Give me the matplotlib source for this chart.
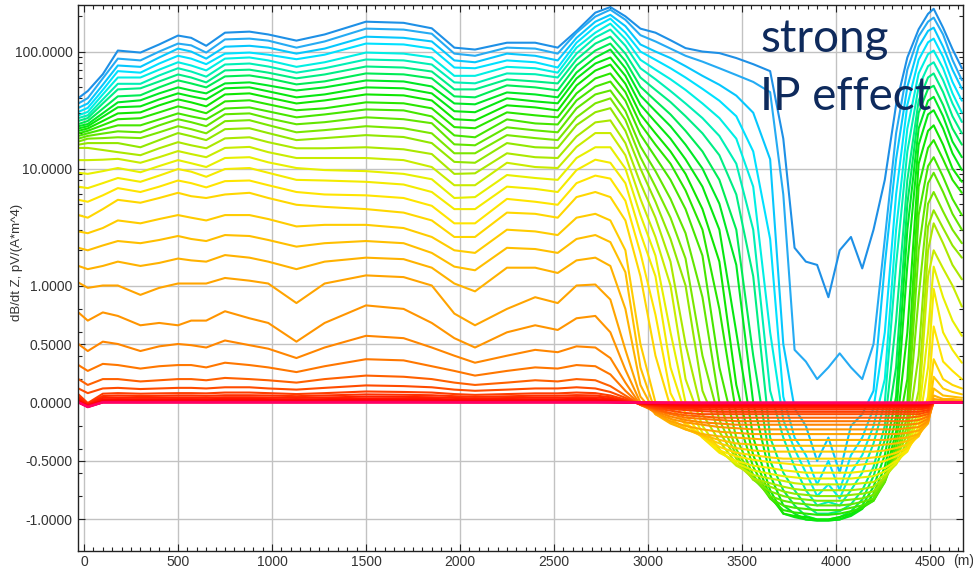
import matplotlib
matplotlib.use('Agg')
import matplotlib.pyplot as plt
from matplotlib.colors import LinearSegmentedColormap
from matplotlib.ticker import FixedLocator, FixedFormatter

plt.rcParams['font.family'] = ['Liberation Sans', 'DejaVu Sans']

# profile stations (m)
x_m = [-30, 20, 100, 180, 300, 400, 500, 570, 650, 750,
       880, 980, 1130, 1280, 1500, 1700, 1850, 1970, 2080,
       2250, 2400, 2520, 2620, 2720, 2800,
       2880, 2960, 3040, 3120, 3200, 3290, 3380, 3470, 3560, 3650,
       3720, 3780, 3840, 3900, 3960, 4020, 4080, 4140, 4200, 4260,
       4320, 4380, 4440, 4490, 4520, 4570, 4620, 4670]

# dB/dt Z per time gate (early -> late)
dbdt_gates = [
    [40, 46, 64, 102, 98, 115, 137, 131, 112, 145, 148, 140, 124, 140, 180, 176, 158, 108, 104, 119, 119, 108, 150, 215, 240,
     200, 157, 145, 125, 107, 100, 97, 88, 78, 68, 18, 2.1, 1.6, 1.5, 0.9, 2.0, 2.6, 1.4, 3.0, 8, 35, 89, 155, 210, 232, 160, 105, 72],
    [36, 40, 59, 87, 84, 100, 117, 113, 98, 127, 129, 124, 108, 122, 157, 154, 142, 96, 92, 108, 106, 96, 145, 199, 228,
     187, 138, 122, 106, 92, 82, 72, 63, 55, 45, 6, 0.45, 0.35, 0.2, 0.3, 0.42, 0.3, 0.2, 0.5, 2.5, 20, 70, 135, 180, 195, 140, 85, 57],
    [33, 36, 52, 76, 74, 89, 106, 100, 87, 110, 112, 108, 96, 106, 134, 131, 122, 84, 81, 96, 92, 84, 131, 180, 206,
     165, 115, 100, 88, 75, 62, 52, 42, 30, 12, 0.5, -0.05, -0.2, -0.5, -0.3, -0.6, -0.2, -0.1, 0.1, 1.5, 12, 50, 110, 150, 160, 110, 70, 48],
    [30.5, 33, 47, 68, 66, 79, 92, 87, 78, 96, 98, 94, 86, 94, 117, 115, 106, 73, 72, 84, 81, 73, 119, 163, 191,
     145, 100, 85, 72, 60, 48, 38, 28, 14, 2.5, 0.05, -0.3, -0.45, -0.7, -0.5, -0.75, -0.45, -0.3, -0.05, 0.6, 6, 35, 85, 120, 129, 90, 55, 38],
    [28.5, 30.5, 43, 60, 60, 70, 81, 76, 69, 87, 89, 84, 74, 81, 98, 96, 89, 62, 62, 74, 72, 66, 108, 145, 173,
     128, 85, 70, 58, 47, 36, 27, 18, 7, 0.6, -0.15, -0.4, -0.6, -0.8, -0.7, -0.82, -0.6, -0.45, -0.2, 0.2, 3, 22, 65, 95, 102, 72, 44, 30],
    [27, 28.5, 39, 53, 53, 62.5, 72, 67.5, 61, 77.5, 79, 74.5, 66, 72, 85.5, 84, 77.5, 54.5, 53.5, 65, 64, 60, 96, 132, 154,
     112, 72, 58, 46, 36, 27, 19, 11, 3, 0.1, -0.3, -0.55, -0.75, -0.88, -0.85, -0.88, -0.75, -0.6, -0.35, 0.0, 1.5, 14, 50, 75, 81, 57, 36, 25],
    [25.5, 27, 36, 47.5, 48.5, 55.5, 63.7, 60, 54.5, 69, 70, 66, 59, 63.7, 74.5, 73, 67.5, 47.5, 47.5, 57.7, 55.5, 53.4, 85.5, 117, 134,
     96, 60, 47, 37, 28, 20, 13, 6, 1.2, -0.3, -0.6, -0.75, -0.88, -0.95, -0.95, -0.93, -0.87, -0.75, -0.55, -0.2, 0.7, 8, 38, 60, 65, 45, 28, 20],
    [24, 25.5, 32.5, 41.4, 42.3, 49.4, 56.7, 53.4, 49.4, 61.3, 62.5, 59, 52.4, 55.6, 65, 63.8, 59, 41.4, 40.6, 51.4, 49.4, 46.6, 76, 102, 117,
     83, 50, 38, 29, 21, 14, 8, 3, 0.4, -0.5, -0.75, -0.88, -0.97, -1.0, -1.0, -0.98, -0.93, -0.83, -0.63, -0.32, 0.3, 5, 30, 48, 51, 35, 22, 16],
    [23, 24, 29.7, 36.8, 38.3, 43.9, 49.4, 46.5, 43.9, 53.4, 54.5, 51.3, 46.5, 49.4, 56.6, 55.5, 50.3, 36, 35.4, 44.7, 43, 40.6, 66.2, 88.9, 104,
     72, 42, 31, 23, 16, 10, 5, 1.5, 0.0, -0.62, -0.88, -0.95, -1.0, -1.02, -1.02, -1.0, -0.96, -0.88, -0.72, -0.45, 0.05, 3, 22, 38, 41, 28, 17, 12.5],
    [22, 23, 27.7, 33.4, 34, 39, 43.9, 41.4, 39, 48.5, 49.4, 45.7, 40.6, 43, 49.4, 48.5, 43.9, 30.9, 30.3, 39.8, 37.5, 36.1, 58.9, 79, 88.9,
     62, 35, 25, 18, 12, 7, 3, 0.6, -0.3, -0.75, -0.95, -0.98, -1.0, -1.02, -1.02, -1.0, -0.97, -0.91, -0.78, -0.55, -0.12, 1.5, 16, 29, 31.5, 22, 13.5, 9.7],
    [21, 22, 25.5, 29.6, 30.2, 34.7, 39, 36.8, 34, 43, 43.9, 40.5, 36, 38.2, 43, 42.2, 38.2, 26.4, 25.8, 34.7, 33.3, 31.4, 51.3, 68.8, 77.4,
     53, 29, 20, 14, 9, 4.5, 1.6, 0.15, -0.45, -0.8, -0.95, -0.97, -0.98, -1.0, -1.0, -0.98, -0.95, -0.9, -0.82, -0.62, -0.25, 0.6, 11, 21, 23.4, 16, 10, 7.7],
    [20, 21, 23.5, 26.4, 26.9, 30.2, 34, 32.1, 29.7, 37.5, 38.3, 35.4, 31.5, 32.7, 36.8, 36.1, 32.7, 22.6, 22.1, 30.2, 28.5, 27.4, 43.9, 58.9, 65,
     45, 24, 16, 11, 6.5, 3, 0.8, -0.1, -0.55, -0.82, -0.92, -0.94, -0.95, -0.96, -0.96, -0.95, -0.93, -0.9, -0.84, -0.66, -0.32, 0.2, 7, 15, 17.5, 12, 8, 6.2],
    [19, 20, 21.6, 23.4, 23.4, 26.3, 29.6, 27.9, 26.3, 32.6, 33.3, 30.8, 27.4, 29, 32, 31.4, 27.9, 19.2, 18.5, 26.3, 24.3, 23.8, 38.2, 50.2, 55.4,
     38, 19.5, 12.5, 8, 4.5, 1.8, 0.3, -0.3, -0.62, -0.82, -0.88, -0.9, -0.91, -0.92, -0.92, -0.92, -0.9, -0.88, -0.84, -0.68, -0.38, 0.0, 4, 10.5, 12.5, 8.5, 5.5, 4.0],
    [18, 19, 19.9, 20.8, 20.4, 23.4, 26.4, 24.9, 23, 29.1, 29.6, 26.9, 23.9, 24.9, 27.4, 26.4, 24.4, 16.1, 15.8, 22.5, 21.2, 20.4, 32.7, 43, 46.5,
     31, 15.5, 9.5, 5.5, 2.8, 0.9, 0.0, -0.4, -0.65, -0.8, -0.84, -0.86, -0.87, -0.88, -0.88, -0.88, -0.87, -0.85, -0.82, -0.68, -0.43, -0.12, 2, 7.5, 9.2, 6.3, 4.1, 3.0],
    [17, 18, 18.2, 18.5, 18.2, 20.4, 23, 21.7, 20, 25.4, 25.9, 23.5, 20.4, 21.3, 23, 22.1, 20, 13.5, 13.5, 19.3, 18.2, 17.5, 27.4, 36.1, 39.8,
     26, 12.5, 7, 3.8, 1.7, 0.4, -0.15, -0.45, -0.66, -0.76, -0.8, -0.82, -0.83, -0.84, -0.84, -0.84, -0.83, -0.82, -0.79, -0.66, -0.46, -0.2, 0.9, 5, 6.3, 4.3, 3.0, 2.3],
    [16, 16.5, 16.5, 16.5, 15.2, 17.5, 20.1, 18.9, 17.5, 21.7, 22.1, 20.1, 17.5, 18.2, 19.3, 18.6, 16.5, 11.4, 11.2, 16.5, 15.2, 15, 23.5, 30.3, 32.8,
     21, 10, 5.2, 2.5, 1.0, 0.1, -0.25, -0.48, -0.66, -0.72, -0.76, -0.78, -0.79, -0.8, -0.8, -0.8, -0.79, -0.78, -0.76, -0.65, -0.48, -0.27, 0.4, 3.2, 4.4, 3.1, 2.2, 1.73],
    [15, 15, 14.4, 13.8, 13, 14.9, 16.8, 15.8, 14.9, 18.1, 18.5, 16.8, 14.9, 14.9, 15.2, 14.6, 13.3, 9, 9.1, 13.5, 12.5, 12.3, 18.8, 24.8, 25.8,
     16.5, 7.5, 3.8, 1.6, 0.5, -0.1, -0.33, -0.52, -0.65, -0.69, -0.72, -0.74, -0.75, -0.75, -0.75, -0.75, -0.75, -0.74, -0.72, -0.64, -0.52, -0.33, 0.1, 2.0, 3.4, 2.3, 1.5, 1.13],
    [11.8, 11.8, 11.9, 12.1, 11.2, 12.5, 14.1, 13.3, 12.5, 15, 15.3, 13.8, 12.3, 12.3, 12.3, 11.8, 10.3, 7.2, 7.2, 11.2, 10.3, 10.1, 15.3, 20.1, 20.1,
     13, 5.5, 2.6, 1.0, 0.2, -0.2, -0.4, -0.54, -0.62, -0.65, -0.67, -0.69, -0.7, -0.7, -0.7, -0.7, -0.7, -0.69, -0.68, -0.62, -0.53, -0.37, -0.05, 1.2, 2.0, 1.4, 1.0, 0.82],
    [9.2, 9.0, 9.5, 10.1, 9.3, 10.5, 11.8, 11.1, 10.3, 12.3, 12.5, 11.3, 10.1, 9.7, 9.5, 9.0, 8.1, 5.6, 5.7, 8.8, 8.3, 8.0, 12.3, 15.2, 15.2,
     10, 4, 1.8, 0.6, 0.0, -0.26, -0.42, -0.52, -0.58, -0.61, -0.63, -0.64, -0.65, -0.65, -0.65, -0.65, -0.65, -0.64, -0.63, -0.59, -0.52, -0.4, -0.12, 0.6, 1.45, 0.9, 0.7, 0.57],
    [7.0, 6.8, 7.5, 8.3, 7.7, 8.7, 9.9, 9.4, 8.5, 9.9, 10.1, 9.2, 8.0, 7.9, 7.7, 7.3, 6.3, 4.5, 4.5, 7.0, 6.7, 6.3, 9.7, 11.9, 11.2,
     7.5, 2.8, 1.2, 0.3, -0.1, -0.3, -0.43, -0.5, -0.54, -0.56, -0.58, -0.59, -0.6, -0.6, -0.6, -0.6, -0.6, -0.59, -0.58, -0.56, -0.5, -0.42, -0.2, 0.3, 0.97, 0.6, 0.45, 0.34],
    [5.4, 5.2, 5.9, 6.8, 6.3, 7.0, 7.9, 7.5, 6.9, 7.8, 7.9, 7.2, 6.3, 6.0, 5.9, 5.6, 4.8, 3.4, 3.4, 5.5, 5.2, 4.9, 7.5, 8.7, 8.2,
     5.3, 1.9, 0.75, 0.08, -0.17, -0.3, -0.41, -0.46, -0.49, -0.51, -0.52, -0.53, -0.54, -0.54, -0.54, -0.54, -0.54, -0.53, -0.52, -0.5, -0.46, -0.41, -0.25, 0.05, 0.65, 0.35, 0.27, 0.2],
    [4.0, 3.8, 4.5, 5.4, 5.1, 5.6, 6.2, 5.8, 5.6, 6.0, 6.2, 5.6, 4.9, 4.7, 4.5, 4.2, 3.6, 2.6, 2.6, 4.2, 4.1, 3.8, 5.7, 6.3, 5.7,
     3.6, 1.2, 0.4, -0.04, -0.19, -0.29, -0.38, -0.43, -0.45, -0.47, -0.48, -0.48, -0.48, -0.48, -0.48, -0.48, -0.48, -0.48, -0.47, -0.46, -0.43, -0.39, -0.28, -0.05, 0.37, 0.2, 0.15, 0.12],
    [2.9, 2.8, 3.1, 3.6, 3.4, 3.7, 4.0, 3.8, 3.6, 4.0, 4.0, 3.7, 3.2, 3.3, 3.3, 3.1, 2.6, 2.0, 1.9, 3.0, 2.9, 2.7, 3.8, 4.1, 3.6,
     2.0, 0.5, 0.0, -0.14, -0.22, -0.29, -0.35, -0.39, -0.41, -0.42, -0.42, -0.42, -0.42, -0.42, -0.42, -0.42, -0.42, -0.42, -0.42, -0.41, -0.39, -0.36, -0.29, -0.12, 0.22, 0.12, 0.09, 0.07],
    [2.1, 2.0, 2.2, 2.4, 2.3, 2.45, 2.65, 2.5, 2.4, 2.7, 2.65, 2.45, 2.15, 2.3, 2.4, 2.3, 1.9, 1.45, 1.35, 2.1, 2.05, 1.9, 2.5, 2.7, 2.35,
     1.3, 0.3, -0.08, -0.17, -0.23, -0.28, -0.32, -0.35, -0.36, -0.37, -0.37, -0.37, -0.37, -0.37, -0.37, -0.37, -0.37, -0.37, -0.37, -0.36, -0.35, -0.33, -0.28, -0.16, 0.12, 0.06, 0.05, 0.04],
    [1.47, 1.38, 1.47, 1.6, 1.47, 1.56, 1.7, 1.64, 1.6, 1.82, 1.73, 1.6, 1.38, 1.6, 1.73, 1.68, 1.42, 1.04, 0.95, 1.42, 1.42, 1.28, 1.64, 1.73, 1.47,
     0.8, 0.15, -0.1, -0.18, -0.23, -0.27, -0.29, -0.3, -0.31, -0.32, -0.32, -0.32, -0.32, -0.32, -0.32, -0.32, -0.32, -0.32, -0.32, -0.32, -0.31, -0.3, -0.27, -0.18, 0.06, 0.03, 0.03, 0.02],
    [1.06, 0.98, 1.0, 1.0, 0.92, 0.98, 1.04, 1.04, 1.04, 1.16, 1.1, 1.04, 0.85, 1.04, 1.22, 1.18, 1.0, 0.76, 0.66, 0.8, 0.9, 0.85, 1.0, 1.02, 0.88,
     0.45, 0.05, -0.1, -0.16, -0.2, -0.23, -0.25, -0.26, -0.27, -0.27, -0.27, -0.27, -0.27, -0.27, -0.27, -0.27, -0.27, -0.27, -0.27, -0.27, -0.27, -0.26, -0.24, -0.17, 0.03, 0.02, 0.015, 0.01],
    [0.77, 0.7, 0.77, 0.74, 0.66, 0.68, 0.66, 0.7, 0.7, 0.78, 0.72, 0.68, 0.52, 0.68, 0.83, 0.8, 0.68, 0.55, 0.47, 0.6, 0.66, 0.62, 0.72, 0.74, 0.6,
     0.28, 0.0, -0.09, -0.14, -0.17, -0.19, -0.21, -0.22, -0.23, -0.23, -0.23, -0.23, -0.23, -0.23, -0.23, -0.23, -0.23, -0.23, -0.23, -0.23, -0.23, -0.22, -0.21, -0.16, 0.01, 0.01, 0.01, 0.005],
    [0.5, 0.44, 0.52, 0.5, 0.44, 0.48, 0.5, 0.49, 0.47, 0.53, 0.49, 0.46, 0.38, 0.47, 0.57, 0.55, 0.47, 0.4, 0.34, 0.4, 0.45, 0.43, 0.48, 0.47, 0.38,
     0.17, -0.02, -0.08, -0.12, -0.15, -0.17, -0.18, -0.19, -0.19, -0.19, -0.19, -0.19, -0.19, -0.19, -0.19, -0.19, -0.19, -0.19, -0.19, -0.19, -0.19, -0.19, -0.18, -0.14, 0.0, 0.005, 0.005, 0.005],
    [0.32, 0.27, 0.33, 0.32, 0.29, 0.31, 0.32, 0.32, 0.3, 0.34, 0.32, 0.3, 0.26, 0.31, 0.37, 0.36, 0.31, 0.27, 0.23, 0.27, 0.3, 0.29, 0.32, 0.31, 0.24,
     0.1, -0.02, -0.07, -0.1, -0.13, -0.14, -0.15, -0.16, -0.16, -0.16, -0.16, -0.16, -0.16, -0.16, -0.16, -0.16, -0.16, -0.16, -0.16, -0.16, -0.16, -0.16, -0.15, -0.12, 0.0, 0.003, 0.003, 0.003],
    [0.2, 0.15, 0.2, 0.2, 0.18, 0.19, 0.2, 0.2, 0.19, 0.21, 0.2, 0.19, 0.17, 0.2, 0.23, 0.22, 0.2, 0.17, 0.15, 0.17, 0.19, 0.18, 0.2, 0.19, 0.14,
     0.06, -0.02, -0.06, -0.09, -0.11, -0.12, -0.13, -0.13, -0.13, -0.13, -0.13, -0.13, -0.13, -0.13, -0.13, -0.13, -0.13, -0.13, -0.13, -0.13, -0.13, -0.13, -0.12, -0.1, 0.0, 0.002, 0.002, 0.002],
    [0.12, 0.08, 0.12, 0.125, 0.115, 0.12, 0.125, 0.125, 0.12, 0.13, 0.13, 0.12, 0.11, 0.125, 0.146, 0.14, 0.13, 0.11, 0.1, 0.11, 0.12, 0.12, 0.13, 0.12, 0.09,
     0.04, -0.02, -0.05, -0.07, -0.09, -0.1, -0.1, -0.1, -0.1, -0.1, -0.1, -0.1, -0.1, -0.1, -0.1, -0.1, -0.1, -0.1, -0.1, -0.1, -0.1, -0.1, -0.1, -0.08, 0.0, 0.002, 0.002, 0.002],
    [0.07, -0.005, 0.075, 0.08, 0.075, 0.078, 0.08, 0.08, 0.078, 0.085, 0.085, 0.08, 0.072, 0.08, 0.094, 0.09, 0.085, 0.072, 0.065, 0.072, 0.078, 0.078, 0.085, 0.08, 0.06,
     0.025, -0.015, -0.04, -0.055, -0.065, -0.075, -0.08, -0.08, -0.08, -0.08, -0.08, -0.08, -0.08, -0.08, -0.08, -0.08, -0.08, -0.08, -0.08, -0.08, -0.08, -0.08, -0.08, -0.065, 0.0, 0.001, 0.001, 0.001],
    [0.05, -0.01, 0.055, 0.06, 0.055, 0.057, 0.06, 0.06, 0.057, 0.062, 0.062, 0.06, 0.054, 0.06, 0.069, 0.066, 0.062, 0.054, 0.048, 0.053, 0.058, 0.058, 0.063, 0.06, 0.045,
     0.015, -0.012, -0.03, -0.045, -0.052, -0.058, -0.06, -0.06, -0.06, -0.06, -0.06, -0.06, -0.06, -0.06, -0.06, -0.06, -0.06, -0.06, -0.06, -0.06, -0.06, -0.06, -0.06, -0.05, 0.0, 0.001, 0.001, 0.001],
    [0.036, -0.015, 0.04, 0.043, 0.04, 0.041, 0.043, 0.043, 0.041, 0.045, 0.045, 0.043, 0.039, 0.043, 0.05, 0.048, 0.045, 0.039, 0.035, 0.038, 0.042, 0.042, 0.046, 0.044, 0.033,
     0.01, -0.01, -0.025, -0.035, -0.04, -0.044, -0.045, -0.045, -0.045, -0.045, -0.045, -0.045, -0.045, -0.045, -0.045, -0.045, -0.045, -0.045, -0.045, -0.045, -0.045, -0.045, -0.045, -0.038, 0.0, 0.001, 0.001, 0.001],
    [0.024, -0.02, 0.027, 0.029, 0.027, 0.028, 0.029, 0.029, 0.028, 0.031, 0.031, 0.029, 0.026, 0.029, 0.034, 0.033, 0.031, 0.026, 0.024, 0.026, 0.028, 0.028, 0.031, 0.03, 0.022,
     0.006, -0.008, -0.02, -0.027, -0.031, -0.034, -0.035, -0.035, -0.035, -0.035, -0.035, -0.035, -0.035, -0.035, -0.035, -0.035, -0.035, -0.035, -0.035, -0.035, -0.035, -0.035, -0.035, -0.03, 0.0, 0.0, 0.0, 0.0],
    [0.015, -0.025, 0.017, 0.019, 0.018, 0.018, 0.019, 0.019, 0.018, 0.02, 0.02, 0.019, 0.017, 0.019, 0.022, 0.021, 0.02, 0.017, 0.015, 0.017, 0.018, 0.018, 0.02, 0.019, 0.014,
     0.003, -0.006, -0.014, -0.019, -0.022, -0.024, -0.025, -0.025, -0.025, -0.025, -0.025, -0.025, -0.025, -0.025, -0.025, -0.025, -0.025, -0.025, -0.025, -0.025, -0.025, -0.025, -0.025, -0.02, 0.0, 0.0, 0.0, 0.0],
    [0.01, -0.03, 0.011, 0.013, 0.012, 0.012, 0.013, 0.013, 0.012, 0.014, 0.014, 0.013, 0.011, 0.013, 0.015, 0.014, 0.013, 0.011, 0.01, 0.011, 0.012, 0.012, 0.013, 0.013, 0.009,
     0.002, -0.004, -0.01, -0.014, -0.016, -0.017, -0.018, -0.018, -0.018, -0.018, -0.018, -0.018, -0.018, -0.018, -0.018, -0.018, -0.018, -0.018, -0.018, -0.018, -0.018, -0.018, -0.018, -0.015, 0.0, 0.0, 0.0, 0.0],
    [0.006, -0.03, 0.008, 0.009, 0.008, 0.008, 0.009, 0.009, 0.008, 0.009, 0.009, 0.009, 0.008, 0.009, 0.01, 0.01, 0.009, 0.008, 0.007, 0.008, 0.008, 0.008, 0.009, 0.009, 0.006,
     0.001, -0.003, -0.007, -0.009, -0.011, -0.012, -0.012, -0.012, -0.012, -0.012, -0.012, -0.012, -0.012, -0.012, -0.012, -0.012, -0.012, -0.012, -0.012, -0.012, -0.012, -0.012, -0.012, -0.01, 0.0, 0.0, 0.0, 0.0],
    [0.004, -0.03, 0.005, 0.006, 0.005, 0.006, 0.006, 0.006, 0.005, 0.006, 0.006, 0.006, 0.005, 0.006, 0.007, 0.007, 0.006, 0.005, 0.005, 0.005, 0.006, 0.006, 0.006, 0.006, 0.004,
     0.0, -0.002, -0.005, -0.006, -0.007, -0.008, -0.008, -0.008, -0.008, -0.008, -0.008, -0.008, -0.008, -0.008, -0.008, -0.008, -0.008, -0.008, -0.008, -0.008, -0.008, -0.008, -0.008, -0.007, 0.0, 0.0, 0.0, 0.0],
    [0.003, -0.035, 0.004, 0.004, 0.004, 0.004, 0.004, 0.004, 0.004, 0.004, 0.004, 0.004, 0.004, 0.004, 0.005, 0.005, 0.004, 0.004, 0.003, 0.004, 0.004, 0.004, 0.004, 0.004, 0.003,
     0.0, -0.001, -0.003, -0.004, -0.005, -0.006, -0.006, -0.006, -0.006, -0.006, -0.006, -0.006, -0.006, -0.006, -0.006, -0.006, -0.006, -0.006, -0.006, -0.006, -0.006, -0.006, -0.006, -0.005, 0.0, 0.0, 0.0, 0.0],
    [0.002, -0.035, 0.002, 0.003, 0.002, 0.003, 0.003, 0.003, 0.002, 0.003, 0.003, 0.003, 0.002, 0.003, 0.003, 0.003, 0.003, 0.002, 0.002, 0.002, 0.003, 0.003, 0.003, 0.003, 0.002,
     0.0, -0.001, -0.002, -0.003, -0.003, -0.004, -0.004, -0.004, -0.004, -0.004, -0.004, -0.004, -0.004, -0.004, -0.004, -0.004, -0.004, -0.004, -0.004, -0.004, -0.004, -0.004, -0.004, -0.003, 0.0, 0.0, 0.0, 0.0],
    [0.001, -0.035, 0.002, 0.002, 0.002, 0.002, 0.002, 0.002, 0.002, 0.002, 0.002, 0.002, 0.002, 0.002, 0.002, 0.002, 0.002, 0.002, 0.001, 0.002, 0.002, 0.002, 0.002, 0.002, 0.001,
     0.0, -0.001, -0.001, -0.002, -0.002, -0.003, -0.003, -0.003, -0.003, -0.003, -0.003, -0.003, -0.003, -0.003, -0.003, -0.003, -0.003, -0.003, -0.003, -0.003, -0.003, -0.003, -0.003, -0.002, 0.0, 0.0, 0.0, 0.0],
    [0.001, -0.04, 0.001, 0.001, 0.001, 0.001, 0.001, 0.001, 0.001, 0.001, 0.001, 0.001, 0.001, 0.001, 0.001, 0.001, 0.001, 0.001, 0.001, 0.001, 0.001, 0.001, 0.001, 0.001, 0.001,
     0.0, 0.0, -0.001, -0.001, -0.001, -0.002, -0.002, -0.002, -0.002, -0.002, -0.002, -0.002, -0.002, -0.002, -0.002, -0.002, -0.002, -0.002, -0.002, -0.002, -0.002, -0.002, -0.002, -0.001, 0.0, 0.0, 0.0, 0.0],
    [0.0, -0.04, 0.0005, 0.0005, 0.0005, 0.0005, 0.0005, 0.0005, 0.0005, 0.0005, 0.0005, 0.0005, 0.0005, 0.0005, 0.0005, 0.0005, 0.0005, 0.0005, 0.0005, 0.0005, 0.0005, 0.0005, 0.0005, 0.0005, 0.0005,
     0.0, 0.0, 0.0, -0.001, -0.001, -0.001, -0.001, -0.001, -0.001, -0.001, -0.001, -0.001, -0.001, -0.001, -0.001, -0.001, -0.001, -0.001, -0.001, -0.001, -0.001, -0.001, -0.001, -0.001, 0.0, 0.0, 0.0, 0.0],
]

y_ticks = [-1.0, -0.5, 0.0, 0.5, 1.0, 10.0, 100.0]
y_tick_labels = ['-1.0000', '-0.5000', '0.0000', '0.5000', '1.0000', '10.0000', '100.0000']
y_minor = [-0.8, -0.6, -0.4, -0.2, 0.2, 0.4, 0.6, 0.8,
           2, 3, 4, 5, 6, 7, 8, 9, 20, 30, 40, 50, 60, 70, 80, 90, 200]
x_ticks = [0, 500, 1000, 1500, 2000, 2500, 3000, 3500, 4000, 4500]
x_tick_labels = ['0', '500', '1000', '1500', '2000', '2500', '3000', '3500', '4000', '4500']

# rainbow from the first gate (blue) to the last (pink-red)
gate_colors = [
    (0.000, '#1e90e6'), (0.023, '#26b0f5'), (0.047, '#00ccff'), (0.070, '#00e4ff'),
    (0.093, '#00f0e0'), (0.116, '#00f0b0'), (0.140, '#00ee80'), (0.163, '#00ec50'),
    (0.186, '#00e820'), (0.233, '#10e600'), (0.300, '#60e600'), (0.370, '#a8e800'),
    (0.420, '#e8f000'), (0.465, '#ffe600'), (0.510, '#ffcc00'), (0.560, '#ffb000'),
    (0.600, '#ff9800'), (0.650, '#ff7800'), (0.700, '#ff4a00'), (0.770, '#ff2000'),
    (0.840, '#ff0000'), (0.930, '#ff0040'), (1.000, '#ff0066'),
]
cmap = LinearSegmentedColormap.from_list('gates', gate_colors)

for i, row in enumerate(dbdt_gates):
    if len(row) != len(x_m):
        raise ValueError(f'gate {i}: {len(row)} values, expected {len(x_m)}')

fig = plt.figure(figsize=(9.73, 5.70), dpi=100)
ax = fig.add_axes([78 / 973, 19 / 570, 885 / 973, 546 / 570])

n = len(dbdt_gates)
for i, row in enumerate(dbdt_gates):
    ax.plot(x_m, row, color=cmap(i / (n - 1)), lw=1.5,
            solid_joinstyle='round', solid_capstyle='round', zorder=2)

# linear between -1 and 1, one decade per unit above; the strip below -1
# is the log side of symlog, so -1.86 puts the frame where the original has it
ax.set_yscale('symlog', linthresh=1.0, linscale=0.9, base=10)
ax.set_xlim(-32, 4676)
ax.set_ylim(-1.86, 250)

ax.yaxis.set_major_locator(FixedLocator(y_ticks))
ax.yaxis.set_major_formatter(FixedFormatter(y_tick_labels))
ax.yaxis.set_minor_locator(FixedLocator(y_minor))
ax.xaxis.set_major_locator(FixedLocator(x_ticks))
ax.xaxis.set_major_formatter(FixedFormatter(x_tick_labels))
ax.xaxis.set_minor_locator(FixedLocator(list(range(0, 4676, 50))))

ax.tick_params(which='both', direction='in', top=True, right=True,
               labelsize=10, labelcolor='#333333', color='#222222', width=0.8)
ax.tick_params(which='major', length=5)
ax.tick_params(which='minor', length=3)
ax.tick_params(axis='y', pad=4)
ax.tick_params(axis='x', pad=3)

ax.grid(True, which='major', color='#c2c2c2', lw=1.0, zorder=0)
ax.set_axisbelow(True)
for sp in ax.spines.values():
    sp.set_color('#222222')
    sp.set_linewidth(1.0)

fig.text(17 / 973, 1 - 262 / 570, 'dB/dt Z, pV/(A*m^4)', rotation=90,
         ha='center', va='center', fontsize=9.5, color='#333333')
fig.text(953 / 973, 1 - 561 / 570, '(m)', ha='left', va='center',
         fontsize=10, color='#333333')

fig.text(760 / 973, 1 - 52 / 570, 'strong', family='Lato', fontsize=33,
         color='#0e2a5c', ha='left', va='baseline')
fig.text(760 / 973, 1 - 110 / 570, 'IP effect', family='Lato', fontsize=33,
         color='#0e2a5c', ha='left', va='baseline')

fig.savefig('out.png', dpi=100)
